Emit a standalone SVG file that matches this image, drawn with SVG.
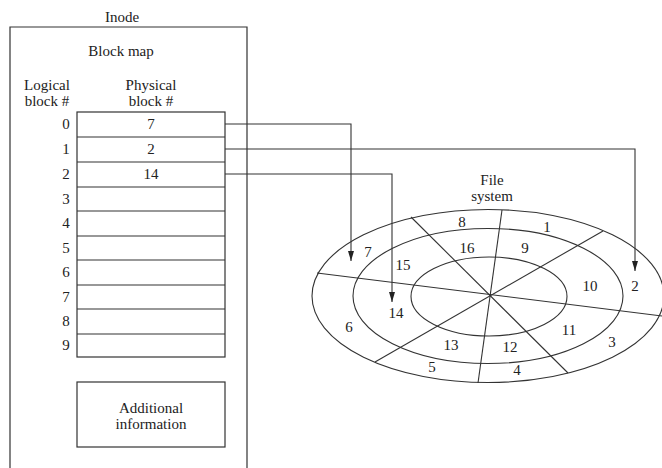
<svg xmlns="http://www.w3.org/2000/svg" width="662" height="468" viewBox="0 0 662 468">
  <style>
    text { font-family: "Liberation Serif", "DejaVu Serif", serif; font-size: 15px; fill: #222; text-anchor: middle; }
    .box { fill: none; stroke: #333; stroke-width: 1.2; }
    .ln { fill: none; stroke: #333; stroke-width: 1.1; }
    .wire { fill: none; stroke: #333; stroke-width: 1.1; marker-end: url(#arrow); }
  </style>
  <defs>
    <marker id="arrow" viewBox="0 0 10 6" refX="10" refY="3" markerWidth="10" markerHeight="6" markerUnits="userSpaceOnUse" orient="auto">
      <path d="M0,0 L10,3 L0,6 z" fill="#222"/>
    </marker>
  </defs>
  <rect width="662" height="468" fill="#fff"/>

  <!-- inode outline with titles -->
  <g id="inode">
    <text x="122" y="22">Inode</text>
    <path class="box" d="M10,470 V27 H247 V470"/>
    <text x="121" y="56">Block map</text>
    <text x="47" y="90">Logical</text>
    <text x="47" y="106">block #</text>
    <text x="151" y="90">Physical</text>
    <text x="151" y="106">block #</text>
  </g>

  <!-- block map table: logical index -> physical block -->
  <g id="block-map">
    <rect class="box" x="77" y="112" width="148" height="245"/>
    <path class="ln" d="M77,137 H225 M77,162 H225 M77,187 H225 M77,211 H225 M77,236 H225 M77,260 H225 M77,285 H225 M77,309 H225 M77,334 H225"/>
    <text x="66" y="129">0</text>
    <text x="66" y="154">1</text>
    <text x="66" y="179">2</text>
    <text x="66" y="204">3</text>
    <text x="66" y="228">4</text>
    <text x="66" y="253">5</text>
    <text x="66" y="277">6</text>
    <text x="66" y="302">7</text>
    <text x="66" y="326">8</text>
    <text x="66" y="350">9</text>
    <text x="151" y="129">7</text>
    <text x="151" y="154">2</text>
    <text x="151" y="179">14</text>
  </g>

  <!-- extra inode fields -->
  <g id="additional-info">
    <rect class="box" x="77" y="382" width="148" height="65"/>
    <text x="151" y="413">Additional</text>
    <text x="151" y="429">information</text>
  </g>

  <!-- disk: three tracks cut by four spokes -->
  <g id="file-system">
    <text x="492" y="185">File</text>
    <text x="492" y="201">system</text>
    <ellipse class="ln" cx="488" cy="296" rx="176" ry="86.5"/>
    <ellipse class="ln" cx="488" cy="296" rx="135" ry="67.5"/>
    <ellipse class="ln" cx="489" cy="296.5" rx="78" ry="39.5"/>
    <line class="ln" x1="317" y1="273" x2="662" y2="316"/>
    <line class="ln" x1="411" y1="217" x2="568" y2="373"/>
    <line class="ln" x1="502" y1="210" x2="478" y2="383"/>
    <line class="ln" x1="603" y1="231" x2="375" y2="362"/>
    <text x="462" y="227">8</text>
    <text x="547" y="232">1</text>
    <text x="467" y="253">16</text>
    <text x="525" y="253">9</text>
    <text x="368" y="257">7</text>
    <text x="403" y="270">15</text>
    <text x="590" y="291">10</text>
    <text x="635" y="291">2</text>
    <text x="396" y="318">14</text>
    <text x="349" y="332">6</text>
    <text x="569" y="335">11</text>
    <text x="612" y="347">3</text>
    <text x="451" y="350">13</text>
    <text x="510" y="352">12</text>
    <text x="432" y="372">5</text>
    <text x="517" y="375">4</text>
  </g>

  <!-- table entries pointing at disk blocks -->
  <g id="connectors">
    <path class="wire" d="M225,124 H351 V261"/>
    <path class="wire" d="M225,149 H635 V271"/>
    <path class="wire" d="M225,174 H392 V302"/>
  </g>
</svg>
